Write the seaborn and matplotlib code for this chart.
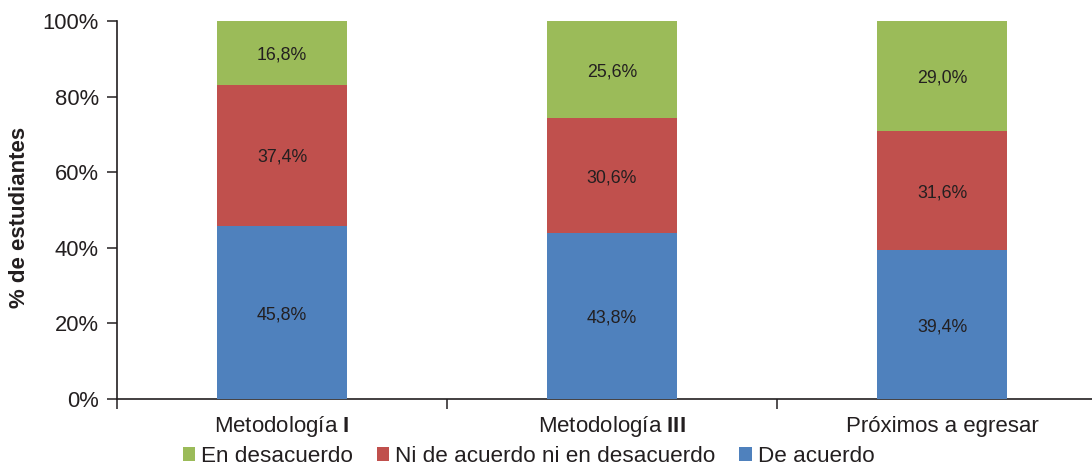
import matplotlib
matplotlib.use("Agg")
import matplotlib.pyplot as plt
from matplotlib.patches import Patch
from matplotlib.ticker import FixedLocator, PercentFormatter
import numpy as np
import pandas as pd
import seaborn as sns

# Survey results per student group (percent of students)
categories = ["Metodología I", "Metodología III", "Próximos a egresar"]
de_acuerdo = [45.8, 43.8, 39.4]
ni_ni = [37.4, 30.6, 31.6]
en_desacuerdo = [16.8, 25.6, 29.0]
series_names = ["De acuerdo", "Ni de acuerdo ni en desacuerdo", "En desacuerdo"]
y_ticks = [0, 20, 40, 60, 80, 100]

colors = {"De acuerdo": "#4F81BD",
          "Ni de acuerdo ni en desacuerdo": "#C0504D",
          "En desacuerdo": "#9BBB59"}
text_color = "#231F20"

sns.set_theme(style="white")
plt.rcParams["font.family"] = ["Liberation Sans", "DejaVu Sans"]
plt.rcParams["mathtext.fontset"] = "custom"
plt.rcParams["mathtext.bf"] = "Liberation Sans:bold"
plt.rcParams["mathtext.rm"] = "Liberation Sans"

layers = [de_acuerdo, ni_ni, en_desacuerdo]
tops = np.cumsum(np.array(layers), axis=0)
bottoms = tops - np.array(layers)

fig = plt.figure(figsize=(10.92, 4.67), dpi=100)
ax = fig.add_axes([117 / 1092, 1 - 399 / 467, 990 / 1092, 378 / 467])

# Stacked bars: draw cumulative heights from the top layer down
for i in reversed(range(len(layers))):
    df = pd.DataFrame({"cat": categories, "val": tops[i]})
    sns.barplot(data=df, x="cat", y="val", order=categories, color=colors[series_names[i]],
                saturation=1, width=0.394, ax=ax, linewidth=0, zorder=2 + (2 - i))

for i, vals in enumerate(layers):
    for j, v in enumerate(vals):
        ax.text(j, bottoms[i][j] + v / 2 - 0.6, f"{v:.1f}%".replace(".", ","),
                ha="center", va="center", fontsize=12.8, color=text_color, zorder=10)


def tick_text(name):
    # Roman numerals in the group names are set in bold
    head, _, last = name.rpartition(" ")
    if last and set(last) <= set("IVX"):
        return head + r" $\mathbf{" + last + "}$"
    return name


ax.set_xlim(-0.5, 2.5)
ax.set_ylim(0, 100)
ax.xaxis.set_major_locator(FixedLocator(range(len(categories))))
ax.set_xticklabels([tick_text(c) for c in categories])
for lbl in ax.get_xticklabels():
    lbl.set_verticalalignment("baseline")
ax.yaxis.set_major_locator(FixedLocator(y_ticks))
ax.yaxis.set_major_formatter(PercentFormatter(decimals=0))
ax.set_xlabel("")
ax.set_ylabel("% de estudiantes", fontsize=16, fontweight="bold", color=text_color)
ax.yaxis.set_label_coords(-0.088, 0.481)

ax.tick_params(axis="y", which="major", left=True, length=7, width=1.1, color=text_color,
               labelsize=15.8, labelcolor=text_color, pad=6)
ax.tick_params(axis="x", which="major", bottom=False, length=0, labelsize=16,
               labelcolor=text_color, pad=24)
ax.xaxis.set_minor_locator(FixedLocator([-0.5, 0.5, 1.5, 2.5]))
ax.tick_params(axis="x", which="minor", bottom=True, length=7, width=1.1, color=text_color)

for side in ["top", "right"]:
    ax.spines[side].set_visible(False)
for side in ["left", "bottom"]:
    ax.spines[side].set_color(text_color)
    ax.spines[side].set_linewidth(1.2)

handles = [Patch(facecolor=colors[n], edgecolor="none") for n in reversed(series_names)]
fig.legend(handles, list(reversed(series_names)), loc="center", bbox_to_anchor=(0.484, 0.022),
           ncol=3, frameon=False, fontsize=16.2, handlelength=0.55, handleheight=0.55,
           handletextpad=0.27, columnspacing=1.05, labelcolor=text_color,
           borderpad=0, borderaxespad=0)

fig.savefig("out.png", dpi=100)
